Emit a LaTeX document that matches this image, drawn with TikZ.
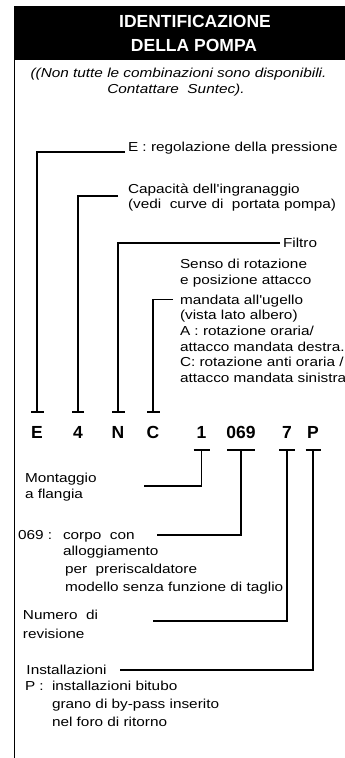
\documentclass[tikz,border=0pt]{standalone}
\usepackage{fontspec}
\setmainfont{Liberation Sans}
\newfontfamily\widesans[FakeStretch=1.18]{Liberation Sans}
\usetikzlibrary{arrows.meta}

\begin{document}
\begin{tikzpicture}[
    x=1pt, y=-1pt,
    headbox/.style={
        fill=black,
        minimum width=331pt,
        minimum height=54pt,
        inner sep=0pt
    },
    title/.style={
        text=white,
        anchor=base,
        inner sep=0pt,
        font=\bfseries\fontsize{17.5}{21}\selectfont
    },
    subtitle/.style={
        anchor=base,
        inner sep=0pt,
        font=\widesans\itshape\fontsize{13}{15}\selectfont
    },
    lbl/.style={
        anchor=base west,
        inner sep=0pt,
        outer sep=0pt,
        text height=9.5pt,
        text depth=0.5pt,
        font=\widesans\fontsize{13}{15}\selectfont
    },
    code/.style={
        anchor=base,
        inner sep=0pt,
        text height=12.5pt,
        text depth=0pt,
        font=\bfseries\fontsize{17.5}{21}\selectfont
    },
    conn/.style={
        draw=black,
        line width=1.8pt,
        -{Bar[width=#1]}
    },
    conn/.default=13pt
]

    \useasboundingbox (0,0) rectangle (345,758);

    % ==========================================
    % HEADER
    % ==========================================

    \node[headbox] (Head) at (179.5,33) {};
    \node[title] (TitleA) at (195,27.7) {IDENTIFICAZIONE};
    \node[title] (TitleB) at (194,51.7) {DELLA POMPA};

    \draw[line width=1.2pt] (14.6,60) -- (14.6,758);

    \node[subtitle] (SubA) at (178.5,77.5) {((Non tutte le combinazioni sono disponibili.};
    \node[subtitle] (SubB) at (176,93) {Contattare~ Suntec).};

    % ==========================================
    % CODE LETTERS
    % ==========================================

    \node[code] (CodeE) at (37,438) {E};
    \node[code] (Code4) at (78,438) {4};
    \node[code] (CodeN) at (118,438) {N};
    \node[code] (CodeC) at (153,438) {C};
    \node[code] (Code1) at (201.5,438) {1};
    \node[code] (Code069) at (241,438) {069};
    \node[code] (Code7) at (287,438) {7};
    \node[code] (CodeP) at (313,438) {P};

    % ==========================================
    % UPPER LABELS
    % ==========================================

    \node[lbl] (ETxt) at (128,151.7) {E : regolazione della pressione};

    \node[lbl] (CapTxt) at (128,193) {Capacità dell'ingranaggio};
    \node[lbl] (CapTxtB) at (128,208) {(vedi~ curve di~ portata pompa)};

    \node[lbl] (FilTxt) at (283,247.5) {Filtro};

    \node[lbl] (SensoTxt) at (180,268.3) {Senso di rotazione};
    \node[lbl] (PosTxt) at (180,284.5) {e posizione attacco};
    \node[lbl] (MandTxt) at (180,304) {mandata all'ugello};
    \node[lbl] (VistaTxt) at (180,319.5) {(vista lato albero)};
    \node[lbl] (ATxt) at (180,335.5) {A : rotazione oraria/};
    \node[lbl] (ADesTxt) at (180,351) {attacco mandata destra.};
    \node[lbl] (CTxt) at (180,366.7) {C: rotazione anti oraria /};
    \node[lbl] (CSinTxt) at (180,382) {attacco mandata sinistra};

    % ==========================================
    % LOWER LABELS
    % ==========================================

    \node[lbl] (MontTxt) at (25,482) {Montaggio};
    \node[lbl] (MontTxtB) at (25,498) {a flangia};

    \node[lbl] (CorpoKey) at (18,539) {069 :};
    \node[lbl] (CorpoTxt) at (63,539) {corpo~ con};
    \node[lbl] (AllogTxt) at (63,555) {alloggiamento};
    \node[lbl] (PreTxt) at (65,573) {per~ preriscaldatore};
    \node[lbl] (ModTxt) at (65,591.5) {modello senza funzione di taglio};

    \node[lbl] (NumTxt) at (23,619) {Numero~ di};
    \node[lbl] (RevTxt) at (23,638) {revisione};

    \node[lbl] (InstTxt) at (26.5,674) {Installazioni};
    \node[lbl] (PKey) at (25,690) {P :};
    \node[lbl] (BituTxt) at (52,690) {installazioni bitubo};
    \node[lbl] (GranoTxt) at (52,708) {grano di by-pass inserito};
    \node[lbl] (ForoTxt) at (52,726) {nel foro di ritorno};

    \coordinate (MontEnd) at (144,486);
    \coordinate (CorpoEnd) at (157,535);
    \coordinate (NumEnd) at (153,621);
    \coordinate (InstEnd) at (120,670);

    % ==========================================
    % CONNECTIONS
    % ==========================================

    % Upper codes
    \draw[conn] ([xshift=-3pt]ETxt.base west) -| ([yshift=12.5pt]CodeE.north);
    \draw[conn=12pt] ([xshift=-10pt,yshift=-3pt]CapTxt.base west) -| ([yshift=12.5pt]Code4.north);
    \draw[conn] ([xshift=-3pt]FilTxt.west) -| ([yshift=12.5pt]CodeN.north);
    \draw[conn] ([xshift=-7pt]MandTxt.west) -| ([yshift=12.5pt]CodeC.north);

    % Lower codes
    \draw[conn=16pt] (MontEnd) -| ([yshift=-11pt]Code1.south);
    \draw[conn=28pt] (CorpoEnd) -| ([yshift=-11pt]Code069.south);
    \draw[conn=16pt] (NumEnd) -| ([yshift=-11pt]Code7.south);
    \draw[conn=15pt] (InstEnd) -| ([yshift=-11pt]CodeP.south);

\end{tikzpicture}
\end{document}
